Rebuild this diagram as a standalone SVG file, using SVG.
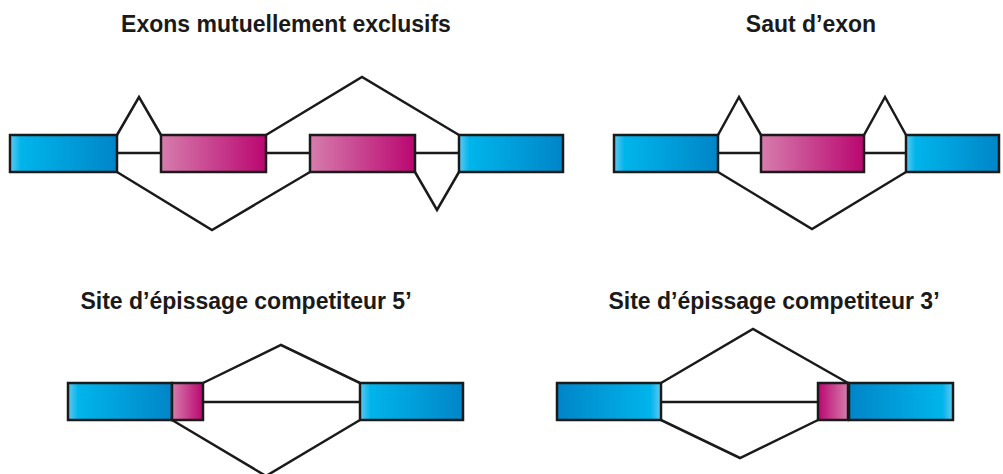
<svg xmlns="http://www.w3.org/2000/svg" width="1003" height="474" viewBox="0 0 1003 474">
<style>
.t{font-family:"Liberation Sans",Arial,sans-serif;font-weight:bold;font-size:23px;fill:#1a1a1a;text-anchor:middle}
.b{fill:url(#blue);stroke:#1a1a1a;stroke-width:2.5}
.br{fill:url(#blueR);stroke:#1a1a1a;stroke-width:2.5}
.p{fill:url(#pink);stroke:#1a1a1a;stroke-width:2.5}
.pr{fill:url(#pinkR);stroke:#1a1a1a;stroke-width:2.5}
.c{fill:none;stroke:#1a1a1a;stroke-width:2.5;stroke-linejoin:miter}
</style>
<defs>
<linearGradient id="blue" x1="0" y1="0" x2="1" y2="0">
<stop offset="0" stop-color="#62c9f1"/><stop offset="0.1" stop-color="#00b5eb"/><stop offset="1" stop-color="#0085c8"/>
</linearGradient>
<linearGradient id="blueR" x1="1" y1="0" x2="0" y2="0">
<stop offset="0" stop-color="#62c9f1"/><stop offset="0.1" stop-color="#00b5eb"/><stop offset="1" stop-color="#0085c8"/>
</linearGradient>
<linearGradient id="pink" x1="0" y1="0" x2="1" y2="0">
<stop offset="0" stop-color="#d67dad"/><stop offset="1" stop-color="#ba0670"/>
</linearGradient>
<linearGradient id="pinkR" x1="1" y1="0" x2="0" y2="0">
<stop offset="0" stop-color="#d67dad"/><stop offset="1" stop-color="#ba0670"/>
</linearGradient>
</defs>
<rect width="1003" height="474" fill="#fff"/>

<text class="t" x="286" y="32">Exons mutuellement exclusifs</text>
<text class="t" x="811" y="32">Saut d’exon</text>
<text class="t" x="246" y="309">Site d’épissage competiteur 5’</text>
<text class="t" x="774" y="309">Site d’épissage competiteur 3’</text>

<g id="connectors">
<polyline class="c" points="117,153 161,153"/>
<polyline class="c" points="266,153 310,153"/>
<polyline class="c" points="415,153 459,153"/>
<polyline class="c" points="117,135 139,97 161,135"/>
<polyline class="c" points="266,135 362,77 459,135"/>
<polyline class="c" points="117,172 212,230 310,172"/>
<polyline class="c" points="415,172 437,210 459,172"/>

<polyline class="c" points="718,153 761,153"/>
<polyline class="c" points="864,153 906,153"/>
<polyline class="c" points="718,135 739,97 761,135"/>
<polyline class="c" points="864,135 885,97 906,135"/>
<polyline class="c" points="718,172 812,229 906,172"/>

<polyline class="c" points="203,402 360,402"/>
<polyline class="c" points="203,383 281,345 360,383"/>
<polyline class="c" points="172,420 266,476 360,420"/>

<polyline class="c" points="661,402 818,402"/>
<polyline class="c" points="661,383 753,329 848,383"/>
<polyline class="c" points="661,420 740,458 818,420"/>
</g>

<g id="exon-a1"><rect class="b" x="10" y="135" width="107" height="37"/></g>
<g id="exon-a2"><rect class="p" x="161" y="135" width="105" height="37"/></g>
<g id="exon-a3"><rect class="p" x="310" y="135" width="105" height="37"/></g>
<g id="exon-a4"><rect class="b" x="459" y="135" width="104" height="37"/></g>

<g id="exon-b1"><rect class="b" x="614" y="135" width="104" height="37"/></g>
<g id="exon-b2"><rect class="p" x="761" y="135" width="103" height="37"/></g>
<g id="exon-b3"><rect class="b" x="906" y="135" width="93" height="37"/></g>

<g id="exon-c1"><rect class="b" x="68" y="383" width="104" height="37"/></g>
<g id="exon-c2"><rect class="p" x="172" y="383" width="31" height="37"/></g>
<g id="exon-c3"><rect class="b" x="360" y="383" width="103" height="37"/></g>

<g id="exon-d1"><rect class="br" x="557" y="383" width="104" height="37"/></g>
<g id="exon-d2"><rect class="pr" x="818" y="383" width="30" height="37"/></g>
<g id="exon-d3"><rect class="br" x="849" y="383" width="104" height="37"/></g>
</svg>
